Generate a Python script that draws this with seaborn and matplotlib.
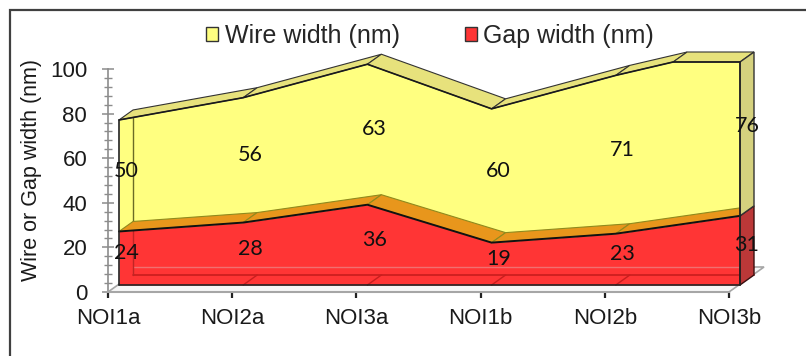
import numpy as np
import matplotlib
matplotlib.use("Agg")
import matplotlib.pyplot as plt
from matplotlib.patches import Polygon, Patch, Rectangle
from matplotlib.ticker import MultipleLocator
import seaborn as sns

# ---------------- data ----------------
categories = ["NOI1a", "NOI2a", "NOI3a", "NOI1b", "NOI2b", "NOI3b"]
gap_width = [24, 28, 36, 19, 23, 31]
wire_width = [50, 56, 63, 60, 71, 76]
series_names = ["Wire width (nm)", "Gap width (nm)"]
y_label = "Wire or Gap width (nm)"
y_max = 100

# ---------------- style ----------------
sns.set_theme(style="white")
plt.rcParams["font.family"] = ["Liberation Sans", "DejaVu Sans"]

YEL_FRONT = "#ffff80"
YEL_TOP = "#e7e27c"
YEL_SIDE = "#d5d17e"
RED_FRONT = "#ff3535"
RED_TOP = "#e8961c"
RED_SIDE = "#bb3838"

W, H = 806, 356
fig = plt.figure(figsize=(W / 100, H / 100), dpi=100)
ax = fig.add_axes([108 / W, (H - 292) / H, 621 / W, 223 / H])
ax.set_xlim(0, len(categories) - 1)
ax.set_ylim(0, y_max)

# pseudo-3D offsets in data units
sx = 621 / (len(categories) - 1)
sy = 223 / y_max
FX, FY = 11 / sx, 7 / sy       # series front plane
DX, DY = 14 / sx, 10 / sy      # series depth
GX, GY = 35 / sx, 25 / sy      # floor depth

x = np.arange(len(categories), dtype=float)
red = np.array(gap_width, dtype=float)
tot = red + np.array(wire_width, dtype=float)

# clip stacked total at axis max (as the 3D chart does)
cx, cy = [x[0]], [min(tot[0], y_max)]
for i in range(1, len(x)):
    y0, y1 = tot[i - 1], tot[i]
    if (y0 - y_max) * (y1 - y_max) < 0:
        xc = x[i - 1] + (y_max - y0) / (y1 - y0) * (x[i] - x[i - 1])
        cx.append(xc); cy.append(y_max)
    cx.append(x[i]); cy.append(min(y1, y_max))
cx = np.array(cx); cy = np.array(cy)
red_c = np.interp(cx, x, red)

def P(pts, fc, ec="none", lw=0.8, z=2, alpha=1.0):
    ax.add_patch(Polygon(pts, closed=True, facecolor=fc, edgecolor=ec,
                         lw=lw, zorder=z, clip_on=False, alpha=alpha))

# floor
n = len(categories) - 1
P([(0, 0), (n, 0), (n + GX, GY), (GX, GY)], "#f7f7f7", "#a6a6a6", 1.2, z=1)

# front faces
ax.fill_between(cx + FX, red_c + FY, cy + FY, color=YEL_FRONT, lw=0,
                zorder=2, clip_on=False)
ax.fill_between(x + FX, FY, red + FY, color=RED_FRONT, lw=0,
                zorder=3, clip_on=False)

# hidden lines seen through the translucent solids
ax.plot([FX + DX, n + FX + DX], [GY, GY], color="#f07070", lw=1.0, zorder=3.5, clip_on=False)
ax.plot([FX + DX, n + FX + DX], [FY + DY, FY + DY], color="#c81e1e", lw=1.2, zorder=3.5, clip_on=False)
ax.plot([FX + DX, FX + DX], [FY + DY, red[0] + FY + DY], color="#c02525", lw=1.0, zorder=3.5, clip_on=False)
ax.plot([FX + DX, FX + DX], [red[0] + FY + DY, cy[0] + FY + DY], color="#6b6b25", lw=1.0, zorder=3.5, clip_on=False)
for xi in x[1:-1]:
    ax.plot([xi + FX, xi + FX + DX], [FY, FY + DY], color="#c81e1e", lw=1.0, zorder=3.5, clip_on=False)

# top face of red (orange band)
for i in range(len(x) - 1):
    P([(x[i] + FX, red[i] + FY), (x[i + 1] + FX, red[i + 1] + FY),
       (x[i + 1] + FX + DX, red[i + 1] + FY + DY), (x[i] + FX + DX, red[i] + FY + DY)],
      RED_TOP, "#8f8a1e", 0.8, z=4)

# top face of yellow
for i in range(len(cx) - 1):
    P([(cx[i] + FX, cy[i] + FY), (cx[i + 1] + FX, cy[i + 1] + FY),
       (cx[i + 1] + FX + DX, cy[i + 1] + FY + DY), (cx[i] + FX + DX, cy[i] + FY + DY)],
      YEL_TOP, "#333333", 0.8, z=4)

# right side faces
xe = x[-1] + FX
P([(xe, FY), (xe, red[-1] + FY), (xe + DX, red[-1] + FY + DY), (xe + DX, FY + DY)],
  RED_SIDE, "#3a1010", 1.0, z=4)
P([(xe, red[-1] + FY), (xe, cy[-1] + FY), (xe + DX, cy[-1] + FY + DY), (xe + DX, red[-1] + FY + DY)],
  YEL_SIDE, "#333333", 1.0, z=4)

# front outlines
sns.lineplot(x=cx + FX, y=cy + FY, ax=ax, color="#1a1a1a", lw=1.2, sort=False,
             zorder=5, clip_on=False, legend=False)
sns.lineplot(x=x + FX, y=red + FY, ax=ax, color="#111111", lw=1.4, sort=False,
             zorder=5, clip_on=False, legend=False)
ax.plot([FX, FX], [FY, cy[0] + FY], color="#222222", lw=1.2, zorder=5, clip_on=False)
ax.plot([xe, xe], [FY, cy[-1] + FY], color="#222222", lw=1.2, zorder=5, clip_on=False)
ax.plot([FX, xe], [FY, FY], color="#222222", lw=1.2, zorder=5, clip_on=False)

# data labels (mid-depth plane)
for i in range(len(x)):
    ax.text(x[i] + FX + DX / 2, red[i] / 2 + FY + DY / 2, f"{gap_width[i]}",
            ha="center", va="center", fontsize=15.5, family=["Lato", "DejaVu Sans"],
            color="#111111", zorder=6)
    ax.text(x[i] + FX + DX / 2, red[i] + wire_width[i] / 2 + FY + DY / 2, f"{wire_width[i]}",
            ha="center", va="center", fontsize=15.5, family=["Lato", "DejaVu Sans"],
            color="#111111", zorder=6)

# axes styling
for s in ["top", "right"]:
    ax.spines[s].set_visible(False)
ax.spines["left"].set_color("#8c8c8c")
ax.spines["left"].set_linewidth(1.2)
ax.spines["bottom"].set_color("#a6a6a6")
ax.spines["bottom"].set_linewidth(1.5)
ax.spines["left"].set_zorder(0.5)
ax.spines["bottom"].set_zorder(1.5)
ax.set_facecolor("none")

ax.set_yticks(np.arange(0, y_max + 1, 20))
ax.yaxis.set_minor_locator(MultipleLocator(4))
ax.tick_params(axis="y", which="major", direction="inout", length=9, width=1.1,
               color="#8c8c8c", labelsize=16, labelcolor="#1a1a1a", pad=10.5, left=True)
ax.tick_params(axis="y", which="minor", direction="inout", length=6, width=1.0,
               color="#8c8c8c", left=True)
ax.set_xticks(x)
ax.set_xticklabels(categories)
ax.tick_params(axis="x", which="major", direction="out", length=4.5, width=1.6,
               color="#222222", labelsize=16, labelcolor="#1a1a1a", pad=7, bottom=True)
ax.set_ylabel(y_label, fontsize=15.5, color="#1a1a1a")
ax.yaxis.set_label_coords(-0.106, 0.545)
ax.grid(False)

# legend
handles = [Patch(facecolor=YEL_FRONT, edgecolor="#333333", lw=1.0),
           Patch(facecolor=RED_FRONT, edgecolor="#333333", lw=1.0)]
fig.legend(handles, series_names, loc="center", bbox_to_anchor=(430 / W, 1 - 36 / H),
           ncol=2, frameon=False, fontsize=18, handlelength=0.5, handleheight=0.5,
           handletextpad=0.25, columnspacing=2.6, borderaxespad=0, borderpad=0)

# outer chart border (partly cropped)
fig.add_artist(Rectangle((9.5 / W, -0.5), 1.5, 0.5 + (H - 9.5) / H, transform=fig.transFigure,
                         fill=False, edgecolor="#404040", lw=1.6))

fig.savefig("out.png", dpi=100)
